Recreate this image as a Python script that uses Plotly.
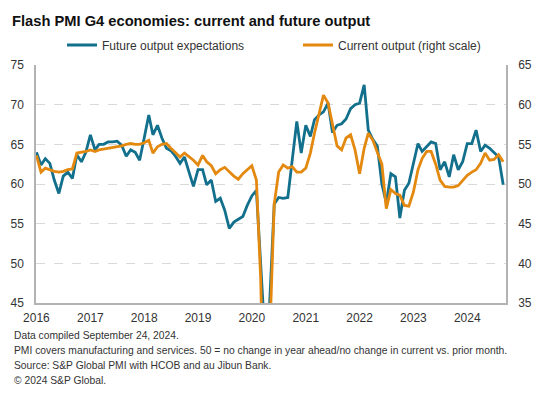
import pandas as pd
import plotly.graph_objects as go

# ---- data ----
start_month = "2016-01-01"
future_output = [
    64.0, 62.4, 63.2, 62.6, 60.5, 58.8, 61.0, 61.5, 60.7, 63.7, 62.8, 64.0,
    66.2, 64.3, 65.0, 65.0, 65.3, 65.3, 65.4, 64.9, 63.5, 64.3, 64.0, 63.0,
    65.8, 68.7, 66.2, 67.4, 65.8, 64.5, 64.2, 63.5, 62.6, 63.4, 61.5, 59.7,
    61.8, 61.8, 59.9, 60.5, 57.8, 58.2, 56.7, 54.4, 55.2, 55.6, 55.9, 57.3,
    58.5, 59.2, 47.5, 40.0, 45.0, 57.5, 58.3, 58.2, 58.3, 63.0, 67.9, 63.9,
    67.4, 66.0, 68.1, 68.7, 69.1, 70.2, 66.5, 67.4, 67.6, 68.2, 69.5, 70.0,
    70.2, 72.5, 66.8, 65.6, 64.8, 60.0, 57.6, 61.3, 60.9, 55.7, 59.2, 60.1,
    62.6, 65.1, 64.1, 64.7, 65.3, 65.1, 61.8, 62.8, 60.9, 63.7, 61.8, 62.8,
    65.1, 65.1, 66.8, 64.1, 64.9, 64.5, 63.9, 63.4, 59.9,
]
current_output = [
    53.6, 51.5, 52.0, 51.8, 51.6, 51.5, 51.6, 51.8, 51.9, 53.9, 54.0, 54.1,
    54.3, 54.1, 54.3, 54.4, 54.5, 54.6, 54.7, 54.8, 55.0, 55.1, 55.0, 55.0,
    55.2, 55.5, 53.9, 54.7, 55.0, 55.1, 54.5, 54.0, 53.4, 53.9, 53.5, 53.0,
    52.4, 53.6, 52.8, 52.3, 51.3, 51.8, 52.1, 51.5, 51.0, 50.6, 51.3, 51.8,
    52.3, 50.5, 38.0, 14.0, 30.0, 47.5, 51.5, 52.4, 52.0, 52.2, 51.5, 51.5,
    52.0, 53.9, 56.4, 58.9, 61.2, 60.2, 57.4, 54.8, 54.3, 55.8, 56.2, 54.3,
    51.3, 54.5, 56.4, 55.5, 54.0, 52.5, 46.9, 49.3, 48.8, 48.6, 47.3, 47.2,
    49.0, 51.8, 53.2, 54.1, 54.1, 52.5, 50.5, 49.7, 49.6, 49.6, 49.8, 50.5,
    51.1, 51.5, 51.8, 52.6, 53.9, 53.0, 53.1, 53.7, 52.8,
]
tick_years = [2016, 2017, 2018, 2019, 2020, 2021, 2022, 2023, 2024]
left_ticks = [45, 50, 55, 60, 65, 70, 75]
right_ticks = [35, 40, 45, 50, 55, 60, 65]
series_names = ["Future output expectations", "Current output (right scale)"]
title_text = "Flash PMI G4 economies: current and future output"
footnotes = [
    "Data compiled September 24, 2024.",
    "PMI covers manufacturing and services. 50 = no change in year ahead/no change in current vs. prior month.",
    "Source: S&P Global PMI with HCOB and au Jibun Bank.",
    "\u00a9 2024 S&P Global.",
]

months = pd.date_range(start_month, periods=len(future_output), freq="MS")

FONT = "Liberation Sans, Arial, sans-serif"
BLUE = "#13708d"
ORANGE = "#e4890f"
TXT = "#333333"

# the page body adds an 8px margin; the figure is sized so the screen
# layout matches a 557x397 canvas
OFF = 8
SCREEN_W, SCREEN_H = 557, 397
W, H = SCREEN_W - OFF, SCREEN_H - OFF
# plot area in screen pixels
PX0, PX1, PY0, PY1 = 36, 506, 65, 303
ML, MR, MT, MB = PX0 - OFF, SCREEN_W - PX1, PY0 - OFF, SCREEN_H - PY1
plot_w = W - ML - MR
plot_h = H - MT - MB

fig = go.Figure()
fig.add_trace(go.Scatter(x=months, y=future_output, name=series_names[0],
                         mode="lines", line=dict(color=BLUE, width=2.8)))
fig.add_trace(go.Scatter(x=months, y=current_output, name=series_names[1],
                         mode="lines", line=dict(color=ORANGE, width=2.8),
                         yaxis="y2"))

annotations = []
for k, txt in enumerate(footnotes):
    ypix = 335 + 15 * k  # screen px
    annotations.append(dict(
        text=txt, xref="paper", yref="paper",
        x=(12 - PX0) / plot_w, y=(PY1 - ypix) / plot_h,
        xanchor="left", yanchor="middle", showarrow=False,
        font=dict(family=FONT, size=10.3, color=TXT)))

fig.update_layout(
    template="none",
    width=W, height=H,
    margin=dict(l=ML, r=MR, t=MT, b=MB, pad=0, autoexpand=False),
    paper_bgcolor="white", plot_bgcolor="white",
    title=dict(text=title_text, x=(12 - OFF) / W, xanchor="left",
               y=1 - (21 - OFF) / H, yanchor="middle", xref="container", yref="container",
               font=dict(family=FONT, size=14.7, color="#111111", weight="bold")),
    showlegend=True,
    legend=dict(orientation="h", xref="container", yref="container",
                x=(62 - OFF) / W, xanchor="left", y=1 - (45 - OFF) / H, yanchor="middle",
                font=dict(family=FONT, size=12, color=TXT),
                entrywidth=191, entrywidthmode="pixels",
                itemwidth=30, bgcolor="rgba(0,0,0,0)", borderwidth=0),
    xaxis=dict(type="date", range=["2015-12-29", "2024-09-20"], automargin=False,
               tickvals=[f"{y}-01-01" for y in tick_years],
               ticktext=[str(y) for y in tick_years],
               showgrid=False, zeroline=False,
               showline=True, linecolor="#b3b3b3", linewidth=1.5,
               ticks="", ticklabelstandoff=3,
               tickfont=dict(family=FONT, size=12, color=TXT)),
    yaxis=dict(range=[45, 75], tickvals=left_ticks, automargin=False,
               showgrid=True, gridcolor="#d9d9d9", gridwidth=1, griddash="dash",
               zeroline=False, showline=True, linecolor="#b3b3b3", linewidth=1.5,
               ticks="", ticklabelstandoff=8,
               tickfont=dict(family=FONT, size=12, color=TXT)),
    yaxis2=dict(range=[35, 65], tickvals=right_ticks, overlaying="y", side="right",
                automargin=False,
                showgrid=False, zeroline=False, showline=True,
                linecolor="#b3b3b3", linewidth=1.5, ticks="", ticklabelstandoff=8,
                tickfont=dict(family=FONT, size=12, color=TXT)),
    annotations=annotations,
    hovermode=False,
)

fig.write_html("out.html")
